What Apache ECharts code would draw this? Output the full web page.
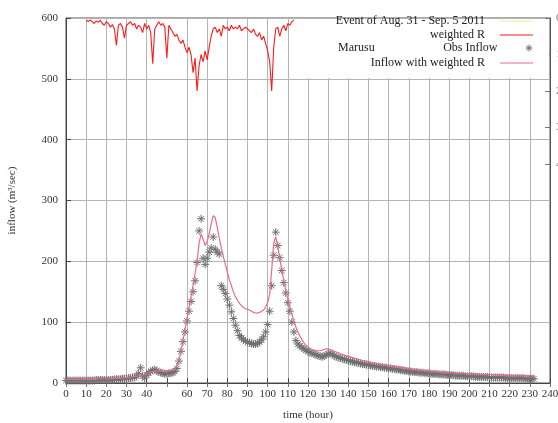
<!DOCTYPE html>
<html>
<head>
<meta charset="utf-8">
<script src="https://cdn.jsdelivr.net/npm/echarts@6/dist/echarts.min.js"></script>
<style>
  html, body { margin: 0; padding: 0; background: #fff; }
  #chart { width: 558px; height: 423px; }
</style>
</head>
<body>
<div id="chart"></div>
<script>
// Hourly observed inflow (m3/sec), hour 0 .. 232
const obsInflow = [
  4,4,4,4,4,4,4,4,4,4,
  4,4,4,4,4,5,5,5,5,5,
  5,5,5,5,6,6,6,6,7,7,
  7,8,8,9,9,11,16,25,12,8,
  13,17,19,21,22,20,18,17,16,15,
  15,16,16,17,19,24,36,52,68,84,
  102,118,134,150,168,198,250,270,205,195,
  205,215,222,240,220,215,212,160,154,147,
  138,128,117,106,95,86,78,74,71,69,
  67,66,65,64,64,65,67,71,76,84,
  96,118,160,210,248,226,206,185,165,148,
  132,118,100,84,70,64,61,58,56,54,
  52,50,49,48,46,45,44,43,44,46,
  48,49,47,45,43,42,41,40,39,38,
  37,36,35,34,34,33,32,31,31,30,
  30,29,28,28,27,27,26,26,25,25,
  24,24,23,23,22,22,21,21,20,20,
  19,19,18,18,18,17,17,17,16,16,
  16,15,15,15,15,14,14,14,14,13,
  13,13,13,12,12,12,12,12,11,11,
  11,11,11,10,10,10,10,10,10,10,
  9,9,9,9,9,9,9,9,8,8,
  8,8,8,8,8,8,8,8,7,7,
  7,7,7
];

// Hourly simulated inflow driven by weighted rainfall, hour 0 .. 232
const simInflow = [
  6,6,6,6,6,6,6,6,6,6,
  6,6,6,6,6,6,7,7,7,7,
  7,7,7,7,8,8,8,8,8,9,
  9,9,10,10,11,11,12,13,13,14,
  15,17,18,19,20,20,20,20,20,20,
  20,21,21,22,24,28,38,52,70,88,
  106,124,142,160,180,200,230,245,236,226,
  232,246,262,275,272,256,238,222,208,195,
  182,170,160,150,142,136,131,127,124,122,
  121,120,118,116,115,115,116,118,120,125,
  132,146,186,230,240,225,205,186,168,152,
  138,125,113,102,92,84,77,71,66,62,
  59,57,55,54,53,53,53,54,55,56,
  56,55,54,52,51,50,48,47,46,45,
  44,43,42,41,40,39,38,37,36,36,
  35,34,33,33,32,31,31,30,29,29,
  28,28,27,27,26,26,25,25,24,24,
  23,23,22,22,22,21,21,21,20,20,
  20,19,19,19,19,18,18,18,18,17,
  17,17,17,16,16,16,16,16,16,15,
  15,15,15,15,15,14,14,14,14,14,
  14,14,13,13,13,13,13,13,13,13,
  12,12,12,12,12,12,12,12,12,12,
  12,12,12
];

// Hourly basin-weighted rainfall (mm), starting at hour 10
const rainStartHour = 10;
const weightedR = [
  0.5,1,0.5,1,1.5,0.8,1.2,0.6,1.5,2,
  1,1.5,2.5,1.8,3,7.5,2,1.5,2.5,5.5,
  2,1.5,1,2,1.5,3,2,2.5,4,1.5,
  3,2,4,12.5,3,2,1,2,1.5,2.5,
  11,2,3,4,5,4.5,6,7,6,8,
  9.5,8,10,15,11,20,13,10,12,9,
  11.5,8,5,3,2.5,4,3,5,2,3,
  2.5,3.5,2,3,2.5,3,2,3.5,3,2.5,
  3,3.5,4,3,4.5,5,4,6,5,7,
  9,12,20,8,3,2.5,5,3,2,3.5,
  1.5,2,1,0.5
];

// Axis ticks
const xTickLabels = ['0','10','20','30','40','','60','70','80','90','100','110','120',
  '130','140','150','160','170','180','190','200','210','220','230','240'];
const yTickLabels = ['0','100','200','300','400','500','600'];
const rainTickValues = [0, 10, 20, 30, 40];

const FONT = 'Liberation Serif';
const GRID_COLOR = '#b4b4b4';
const OBS_COLOR = '#707070';

const obsData = obsInflow.map((v, i) => [i, v]);
const simData = simInflow.map((v, i) => [i, v]);
const rainData = weightedR.map((v, i) => [rainStartHour + i, v]);

// vertical grid line colours, one per x tick (blank label -> no line)
const xGridColors = xTickLabels.map(l => (l === '' ? 'rgba(0,0,0,0)' : GRID_COLOR));

const asterisk = 'path://M0,4L8,4M4,0L4,8M1.2,1.2L6.8,6.8M6.8,1.2L1.2,6.8';
const lineIcon = 'path://M0,0H33V1.2H0Z';

const legendBase = {
  orient: 'horizontal',
  align: 'right',
  right: 25,
  itemWidth: 33,
  itemHeight: 12,
  itemGap: 0,
  padding: 0,
  textStyle: { fontFamily: FONT, fontSize: 12, color: '#222', padding: [0, 10, 0, 0] },
  z: 6
};

const chart = echarts.init(document.getElementById('chart'), null, { renderer: 'canvas' });
chart.setOption({
  animation: false,
  backgroundColor: '#fff',
  textStyle: { fontFamily: FONT },
  grid: {
    left: 66, right: 8, top: 18, bottom: 40,
    outerBoundsMode: 'none', containLabel: false,
    show: true, borderColor: '#555', borderWidth: 1, backgroundColor: 'rgba(0,0,0,0)'
  },
  title: {
    text: 'Marusu', left: 338, top: 42, padding: 0,
    textStyle: { fontFamily: FONT, fontSize: 12, fontWeight: 'normal', color: '#222' },
    z: 6
  },
  graphic: [{
    type: 'rect', z: 1, silent: true,
    shape: { x: 297, y: 19, width: 252, height: 59 },
    style: { fill: '#fff' }
  }],
  legend: [
    Object.assign({}, legendBase, { top: 15, data: [{ name: 'Event of Aug. 31 - Sep. 5 2011', icon: lineIcon }] }),
    Object.assign({}, legendBase, { top: 29, data: [{ name: 'weighted R', icon: lineIcon }] }),
    Object.assign({}, legendBase, {
      top: 42, itemHeight: 7,
      itemStyle: { color: 'rgba(0,0,0,0)', borderColor: OBS_COLOR, borderWidth: 1 },
      data: [{ name: 'Obs Inflow', icon: asterisk }]
    }),
    Object.assign({}, legendBase, { top: 57, data: [{ name: 'Inflow with weighted R', icon: lineIcon }] })
  ],
  xAxis: [{
    type: 'value', min: 0, max: 240, interval: 10,
    name: 'time (hour)', nameLocation: 'middle', nameGap: 27,
    nameTextStyle: { fontFamily: FONT, fontSize: 11, color: '#333' },
    axisLine: { show: true, onZero: false, lineStyle: { color: '#444' } },
    axisTick: { show: true, inside: true, length: 5, lineStyle: { color: '#444' } },
    axisLabel: {
      fontFamily: FONT, fontSize: 11, color: '#333', margin: 6,
      formatter: v => xTickLabels[Math.round(v / 10)]
    },
    splitLine: { show: true, lineStyle: { color: xGridColors, width: 1 } }
  }, {
    type: 'value', min: 0, max: 240, interval: 10, position: 'top', z: 3,
    axisLine: { show: false },
    axisTick: { show: true, inside: true, length: 4, lineStyle: { color: '#777' } },
    axisLabel: { show: false },
    splitLine: { show: false }
  }],
  yAxis: [{
    type: 'value', min: 0, max: 600, interval: 100,
    name: 'inflow (m³/sec)', nameLocation: 'middle', nameGap: 48,
    nameTextStyle: { fontFamily: FONT, fontSize: 11, color: '#333' },
    axisLine: { show: true, onZero: false, lineStyle: { color: '#444' } },
    axisTick: { show: true, inside: true, length: 5, lineStyle: { color: '#444' } },
    axisLabel: {
      fontFamily: FONT, fontSize: 11, color: '#333', margin: 8,
      formatter: v => yTickLabels[Math.round(v / 100)]
    },
    splitLine: { show: true, lineStyle: { color: GRID_COLOR, width: 1 } }
  }, {
    type: 'value', min: 0, max: 100, inverse: true, position: 'right',
    axisLine: { show: true, onZero: false, lineStyle: { color: '#555' } },
    axisTick: { show: true, inside: true, length: 5, customValues: rainTickValues, lineStyle: { color: '#777' } },
    axisLabel: {
      show: true, customValues: rainTickValues, margin: 6,
      fontFamily: FONT, fontSize: 11, color: '#777'
    },
    splitLine: { show: false }
  }],
  series: [{
    name: 'Event of Aug. 31 - Sep. 5 2011',
    type: 'line', data: [], showSymbol: false,
    lineStyle: { color: '#eeeea0', width: 1 }, itemStyle: { color: '#eeeea0' }
  }, {
    name: 'weighted R',
    type: 'line', yAxisIndex: 1, data: rainData, showSymbol: false, symbol: 'none',
    lineStyle: { color: '#ff1a1a', width: 1.1 }, itemStyle: { color: '#ff1a1a' }, z: 3
  }, {
    name: 'Obs Inflow',
    type: 'scatter', data: obsData, symbol: asterisk, symbolSize: 8,
    itemStyle: { color: 'rgba(0,0,0,0)', borderColor: OBS_COLOR, borderWidth: 1, opacity: 1 },
    z: 3
  }, {
    name: 'Inflow with weighted R',
    type: 'line', data: simData, showSymbol: false, symbol: 'none',
    lineStyle: { color: '#e66d85', width: 1.2 }, itemStyle: { color: '#e66d85' }, z: 4
  }]
});
</script>
</body>
</html>
